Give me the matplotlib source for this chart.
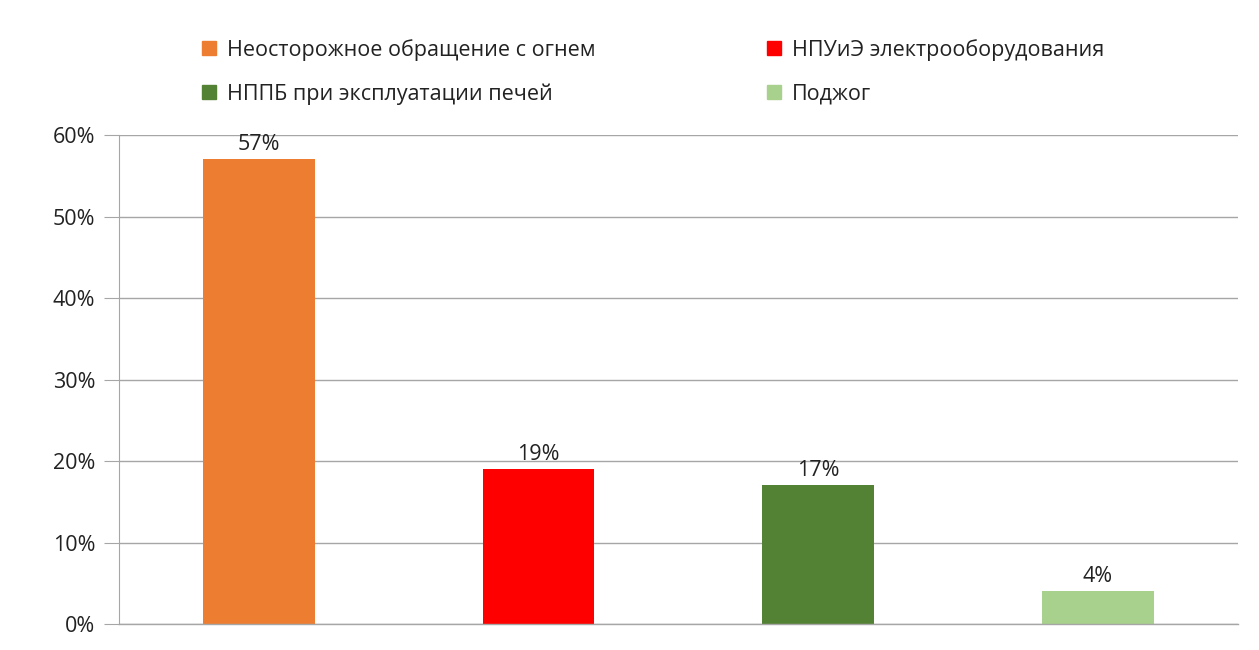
import matplotlib.pyplot as plt
from matplotlib.patches import Patch
from matplotlib.ticker import FuncFormatter

plt.rcParams['font.family'] = ['Open Sans', 'DejaVu Sans']

# data
causes = ['Неосторожное обращение с огнем', 'НПУиЭ электрооборудования',
          'НППБ при эксплуатации печей', 'Поджог']
shares = [57, 19, 17, 4]
colors = ['#ED7D31', '#FF0000', '#548235', '#A9D18E']

fig = plt.figure(figsize=(12.59, 6.5), dpi=100)
ax = fig.add_axes([0.0945, 0.04, 0.8885, 0.7523])

x = range(len(causes))
bars = ax.bar(x, shares, width=0.4, color=colors, zorder=3)
for xi, v in zip(x, shares):
    ax.annotate(f'{v}%', (xi, v), xytext=(0, 3), textcoords='offset points',
                ha='center', va='bottom', fontsize=15.5, color='#222222')

ax.set_xlim(-0.5, len(causes) - 0.5)
ax.set_ylim(0, 60)
ax.set_yticks(range(0, 61, 10))
ax.yaxis.set_major_formatter(FuncFormatter(lambda v, p: f'{v:.0f}%'))
ax.set_xticks([])
ax.grid(axis='y', color='#a6a6a6', linewidth=1, zorder=0)
ax.axhline(0, color='#a6a6a6', linewidth=1, clip_on=False, zorder=4)
ax.tick_params(axis='y', length=11, color='#a6a6a6', labelsize=15.5,
               labelcolor='#222222', pad=6)
for s in ['top', 'right', 'bottom']:
    ax.spines[s].set_visible(False)
ax.spines['left'].set_color('#a6a6a6')

handles = [Patch(color=c, label=l) for c, l in zip(colors, causes)]
order = [0, 2, 1, 3]
fig.legend([handles[i] for i in order], [causes[i] for i in order],
           ncol=2, loc='upper left', bbox_to_anchor=(0.145, 0.970),
           frameon=False, fontsize=15.5, handlelength=0.65, handleheight=0.65,
           handletextpad=0.5, columnspacing=8.0, labelspacing=1.05,
           labelcolor='#222222')

fig.savefig('out.png', dpi=100)
